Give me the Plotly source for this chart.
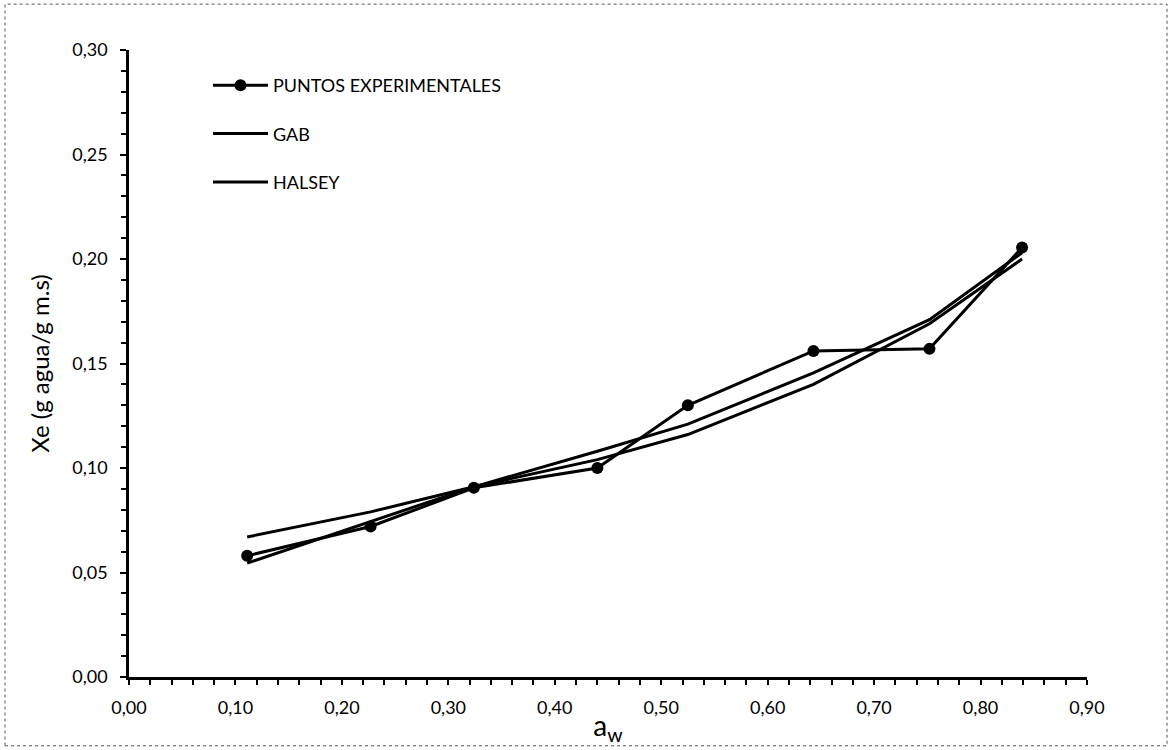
import plotly.graph_objects as go

# Data
aw_exp = [0.111, 0.227, 0.324, 0.440, 0.525, 0.643, 0.752, 0.839]
xe_exp = [0.058, 0.072, 0.0905, 0.100, 0.130, 0.156, 0.157, 0.2055]
xe_gab = [0.0545, 0.0745, 0.091, 0.108, 0.121, 0.1455, 0.171, 0.203]
xe_halsey = [0.067, 0.079, 0.091, 0.104, 0.116, 0.140, 0.169, 0.200]

x_ticks = [0.0, 0.1, 0.2, 0.3, 0.4, 0.5, 0.6, 0.7, 0.8, 0.9]
y_ticks = [0.0, 0.05, 0.10, 0.15, 0.20, 0.25, 0.30]

FONT = "Lato"
BLACK = "#000000"

fig = go.Figure()
fig.add_trace(go.Scatter(
    x=aw_exp, y=xe_exp, mode="lines+markers", name="PUNTOS EXPERIMENTALES",
    line=dict(color=BLACK, width=3), marker=dict(color=BLACK, size=12),
    legendgroup="a"))
fig.add_trace(go.Scatter(
    x=aw_exp, y=xe_gab, mode="lines", name="GAB",
    line=dict(color=BLACK, width=3), legendgroup="b"))
fig.add_trace(go.Scatter(
    x=aw_exp, y=xe_halsey, mode="lines", name="HALSEY",
    line=dict(color=BLACK, width=3), legendgroup="c"))

W, H = 1169, 750
L, R, T, B = 129, 82, 50, 71
pw, ph = W - L - R, H - T - B

fig.update_layout(
    width=W, height=H,
    margin=dict(l=L, r=R, t=T, b=B),
    paper_bgcolor="white", plot_bgcolor="white",
    separators=", ",
    font=dict(family=FONT, size=18, color=BLACK),
    showlegend=True,
    legend=dict(x=(208 - L) / pw, y=1 - (67 - T) / ph, xanchor="left", yanchor="top",
                bgcolor="rgba(0,0,0,0)", font=dict(family=FONT, size=18, color=BLACK),
                tracegroupgap=22, itemwidth=55),
    xaxis=dict(range=[0, 0.9], tickvals=x_ticks, tickformat=".2f",
               showline=True, linecolor=BLACK, linewidth=2.5, mirror=False,
               ticks="outside", ticklen=4, tickwidth=2, tickcolor=BLACK,
               minor=dict(ticks="outside", dtick=0.02, ticklen=5, tickwidth=1.5, tickcolor=BLACK),
               showgrid=False, zeroline=False,
               tickfont=dict(family=FONT, size=18, color=BLACK),
               ticklabelstandoff=9,
               title=dict(text="a<sub>w</sub>", font=dict(family=FONT, size=28, color=BLACK), standoff=0)),
    xaxis2=dict(range=[0, 0.9], overlaying="x", anchor="y", side="bottom",
                tickvals=x_ticks, showticklabels=False, showline=False,
                ticks="inside", ticklen=7, tickwidth=2, tickcolor=BLACK,
                showgrid=False, zeroline=False),
    yaxis=dict(range=[0, 0.3], tickvals=y_ticks, tickformat=".2f",
               showline=True, linecolor=BLACK, linewidth=2.5,
               ticks="outside", ticklen=6, tickwidth=2, tickcolor=BLACK,
               minor=dict(ticks="outside", dtick=0.01, ticklen=5, tickwidth=1.5, tickcolor=BLACK),
               showgrid=False, zeroline=False,
               tickfont=dict(family=FONT, size=18, color=BLACK),
               ticklabelstandoff=9,
               title=dict(text="Xe (g agua/g m.s)", font=dict(family=FONT, size=24, color=BLACK), standoff=16)),
    yaxis2=dict(range=[0, 0.3], overlaying="y", anchor="x", side="left",
                tickvals=y_ticks, showticklabels=False, showline=False,
                ticks="inside", ticklen=6, tickwidth=2, tickcolor=BLACK,
                showgrid=False, zeroline=False),
    shapes=[dict(type="rect", xref="paper", yref="paper",
                 x0=(5 - L) / pw, x1=(1167 - L) / pw,
                 y0=1 - (748 - T) / ph, y1=1 - (4 - T) / ph,
                 line=dict(color="#555555", width=1, dash="dot"), fillcolor="rgba(0,0,0,0)")],
)

fig.write_html("out.html")
